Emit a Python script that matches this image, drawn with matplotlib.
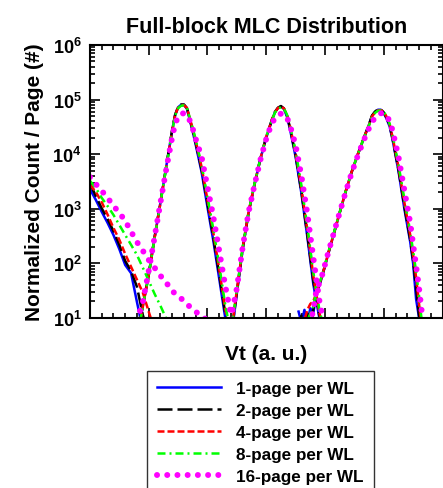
"""
Full-block MLC Vt distribution for 1/2/4/8/16 pages per WL
"""

import numpy as np
import matplotlib
matplotlib.use("Agg")
import matplotlib.pyplot as plt
from matplotlib.ticker import LogLocator, FixedLocator, MultipleLocator, NullFormatter

plt.rcParams['font.family'] = ['Liberation Sans', 'DejaVu Sans']
plt.rcParams['font.weight'] = 'bold'
plt.rcParams['mathtext.fontset'] = 'custom'
plt.rcParams['mathtext.rm'] = 'Liberation Sans:bold'
plt.rcParams['mathtext.bf'] = 'Liberation Sans:bold'

nan = np.nan

# Vt grid (a. u.) for each state
vt_erase = [0.0, 0.1, 0.2, 0.3, 0.4, 0.5, 0.6, 0.7, 0.8, 0.9, 1.0,
            1.1, 1.2, 1.3, 1.4, 1.5, 1.6, 1.7, 1.8, 1.9, 2.0]
vt_p1 = [0.8, 0.9, 1.0, 1.1, 1.2, 1.3, 1.4,
         1.45, 1.5, 1.55, 1.6, 1.65, 1.7, 1.75,
         1.8, 1.9, 2.0, 2.1, 2.2, 2.3, 2.4, 2.5]
vt_p2 = [2.3, 2.4, 2.5, 2.6, 2.7, 2.8, 2.9, 3.0,
         3.05, 3.1, 3.15, 3.2, 3.25, 3.3, 3.35,
         3.4, 3.5, 3.6, 3.7, 3.8, 3.9, 4.0]
vt_p3 = [3.55, 3.6, 3.65, 3.7, 3.75, 3.8, 3.85,
         3.95, 4.05, 4.15, 4.25, 4.35, 4.45, 4.55, 4.65, 4.75,
         4.8, 4.85, 4.9, 4.95, 5.0, 5.05, 5.1, 5.15,
         5.25, 5.35, 5.45, 5.5, 5.55, 5.6, 5.65, 5.7]

# normalized counts per page, erased state
erase_1p = [2290, 1450, 880, 550, 330, 182, 93, 66, 19.5, 6, 3,
            nan, nan, nan, nan, nan, nan, nan, nan, nan, nan]
erase_2p = [2950, 1700, 1020, 650, 390, 218, 110, 72, 37, 11.3, 5,
            nan, nan, nan, nan, nan, nan, nan, nan, nan, nan]
erase_4p = [2750, 2030, 1320, 780, 445, 270, 148, 86, 50, 29, 13,
            6, nan, nan, nan, nan, nan, nan, nan, nan, nan]
erase_8p = [3240, 2400, 1580, 1120, 770, 505, 330, 218, 142, 83, 48,
            27.5, 16.6, 9.6, 5, nan, nan, nan, nan, nan, nan]
erase_16p = [3800, 2830, 2130, 1580, 1130, 840, 600, 380, 245, 170, 115,
             83, 59, 44, 31, 25, 20.5, 15.9, 12.9, 10.9, 8.9]

# first programmed state
p1_1p = [4, 16.6, 61, 295, 1290, 6050, 27500,
         52000, 72000, 80000, 80000, 68000, 42000, 25500,
         14800, 4700, 1070, 257, 52, 10.4, 3, nan]
p1_2p = [4, 17, 63, 300, 1300, 6100, 28000,
         53000, 73000, 81000, 81000, 70000, 44000, 27000,
         16000, 5200, 1250, 300, 62, 12.5, 3.5, nan]
p1_4p = [4, 16, 60, 290, 1280, 6000, 27000,
         52000, 71000, 79000, 79000, 70000, 45000, 28500,
         17500, 5800, 1450, 360, 78, 15, 4, nan]
p1_8p = [4, 16, 60, 290, 1270, 5900, 26500,
         51000, 69000, 77000, 78000, 70000, 46000, 29500,
         18500, 6300, 1650, 420, 92, 18, 5, nan]
p1_16p = [8.9, 19.5, 72, 300, 1290, 5400, 20500,
          36000, 48000, 55000, 56000, 52000, 41000, 29000,
          19000, 8900, 2500, 710, 170, 40, 11.3, 5]

# second programmed state
p2_1p = [3, 4, 28, 182, 840, 2750, 8100, 20000,
         29000, 43000, 59000, 70000, 75000, 67000, 50000,
         30000, 8900, 1860, 300, 42, 10.4, 4]
p2_2p = [3, 4.5, 30, 190, 860, 2800, 8200, 21000,
         30000, 44000, 60000, 71000, 76000, 69000, 52000,
         32000, 9500, 2000, 330, 48, 11.5, 4]
p2_4p = [3, 5, 32, 195, 870, 2800, 8200, 21000,
         30000, 44000, 59000, 70000, 74000, 69000, 53000,
         34000, 10500, 2300, 400, 60, 13, 4.5]
p2_8p = [3, 5.5, 33, 200, 880, 2850, 8300, 21000,
         30000, 43000, 58000, 68000, 72000, 68000, 54000,
         35000, 11500, 2600, 470, 70, 15, 5]
p2_16p = [4, 10, 35, 200, 870, 2700, 7800, 19000,
          27000, 37000, 46000, 52000, 55000, 54000, 47000,
          35000, 14500, 3900, 800, 130, 22, 6]

# third programmed state
p3_1p = [13, 8, 14, 8, 15, 12, 26,
         56, 142, 345, 840, 2030, 4560, 9300, 18200, 35000,
         50000, 59000, 65000, 65000, 56000, 44000, 32000, 18300,
         4900, 1000, 245, 98, 22, 10, 5, 3]
p3_2p = [6, 11, 6, 12, 9, 14, 27,
         58, 145, 350, 850, 2050, 4600, 9400, 18500, 35500,
         51000, 60000, 66000, 66000, 58000, 46000, 33000, 19000,
         5200, 1100, 270, 110, 35, 11, 4, nan]
p3_4p = [8, 6, 9, 14, 18, 20, 28,
         58, 145, 350, 850, 2050, 4600, 9400, 18500, 34500,
         49000, 58000, 63000, 64000, 59000, 48000, 35000, 20500,
         5800, 1300, 330, 140, 55, 18, 6, 3]
p3_8p = [5, 6, 7, 9, 12, 16, 30,
         60, 150, 360, 860, 2050, 4600, 9400, 18300, 34000,
         48000, 57000, 62000, 63000, 59000, 49000, 36000, 22000,
         6500, 1500, 380, 165, 70, 25, 8, 4]
p3_16p = [6, 9, 7, 10, 8, 14, 30,
          60, 150, 360, 850, 2000, 4400, 8900, 17000, 30000,
          39000, 46000, 52000, 56000, 56000, 50000, 40000, 27000,
          9000, 2200, 550, 220, 90, 35, 12, 6]

labels = ['1-page per WL', '2-page per WL', '4-page per WL',
          '8-page per WL', '16-page per WL']

series = [
    (erase_1p, p1_1p, p2_1p, p3_1p),
    (erase_2p, p1_2p, p2_2p, p3_2p),
    (erase_4p, p1_4p, p2_4p, p3_4p),
    (erase_8p, p1_8p, p2_8p, p3_8p),
    (erase_16p, p1_16p, p2_16p, p3_16p),
]

styles = [
    dict(color='#0000FF', lw=1.8, ls='-'),
    dict(color='black', lw=1.8, ls=(0, (6, 2))),
    dict(color='#FF0000', lw=1.8, ls=(0, (2.8, 1.2))),
    dict(color='#00FF00', lw=1.8, ls=(0, (3.2, 1.6, 0.8, 1.6))),
    dict(color='#FF00FF', lw=4.3, ls=(0, (0.01, 1.7)), dash_capstyle='round'),
]

fig = plt.figure(figsize=(4.43, 4.89), dpi=100)
ax = fig.add_axes([0.203, 0.348, 0.796, 0.558])

vts = [vt_erase, vt_p1, vt_p2, vt_p3]
for states, st, lab in zip(series, styles, labels):
    for i, (vt, cnt) in enumerate(zip(vts, states)):
        ax.plot(vt, cnt, label=lab if i == 0 else None, **st)

ax.set_yscale('log')
ax.set_ylim(10, 1e6)
ax.set_xlim(0, 6)

ax.yaxis.set_major_locator(FixedLocator([1e1, 1e2, 1e3, 1e4, 1e5, 1e6]))
ax.set_yticklabels([r'$\mathbf{10^{%d}}$' % k for k in range(1, 7)])
ax.yaxis.set_minor_locator(LogLocator(base=10, subs=np.arange(2, 10)))
ax.yaxis.set_minor_formatter(NullFormatter())
ax.xaxis.set_major_locator(MultipleLocator(1))
ax.xaxis.set_minor_locator(MultipleLocator(0.2))
ax.set_xticklabels([])

ax.tick_params(which='both', direction='in', top=True, right=True,
               width=1.2, labelsize=13, pad=6)
ax.tick_params(which='major', length=7)
ax.tick_params(which='minor', length=3.5)
for s in ax.spines.values():
    s.set_linewidth(1.5)

ax.set_title('Full-block MLC Distribution', fontsize=15.5, fontweight='bold', pad=9)
ax.set_ylabel('Normalized Count / Page (#)', fontsize=15, fontweight='bold', labelpad=6)
ax.set_xlabel('Vt (a. u.)', fontsize=15, fontweight='bold', labelpad=13)

leg = fig.legend(loc='upper left', bbox_to_anchor=(0.332, 0.239),
                 fontsize=12.3, handlelength=3.7, handletextpad=0.9,
                 labelspacing=0.4, borderpad=0.6, fancybox=False,
                 borderaxespad=0, frameon=True)
leg.get_frame().set_edgecolor('black')
leg.get_frame().set_linewidth(1.0)

fig.savefig('out.png', dpi=100)
